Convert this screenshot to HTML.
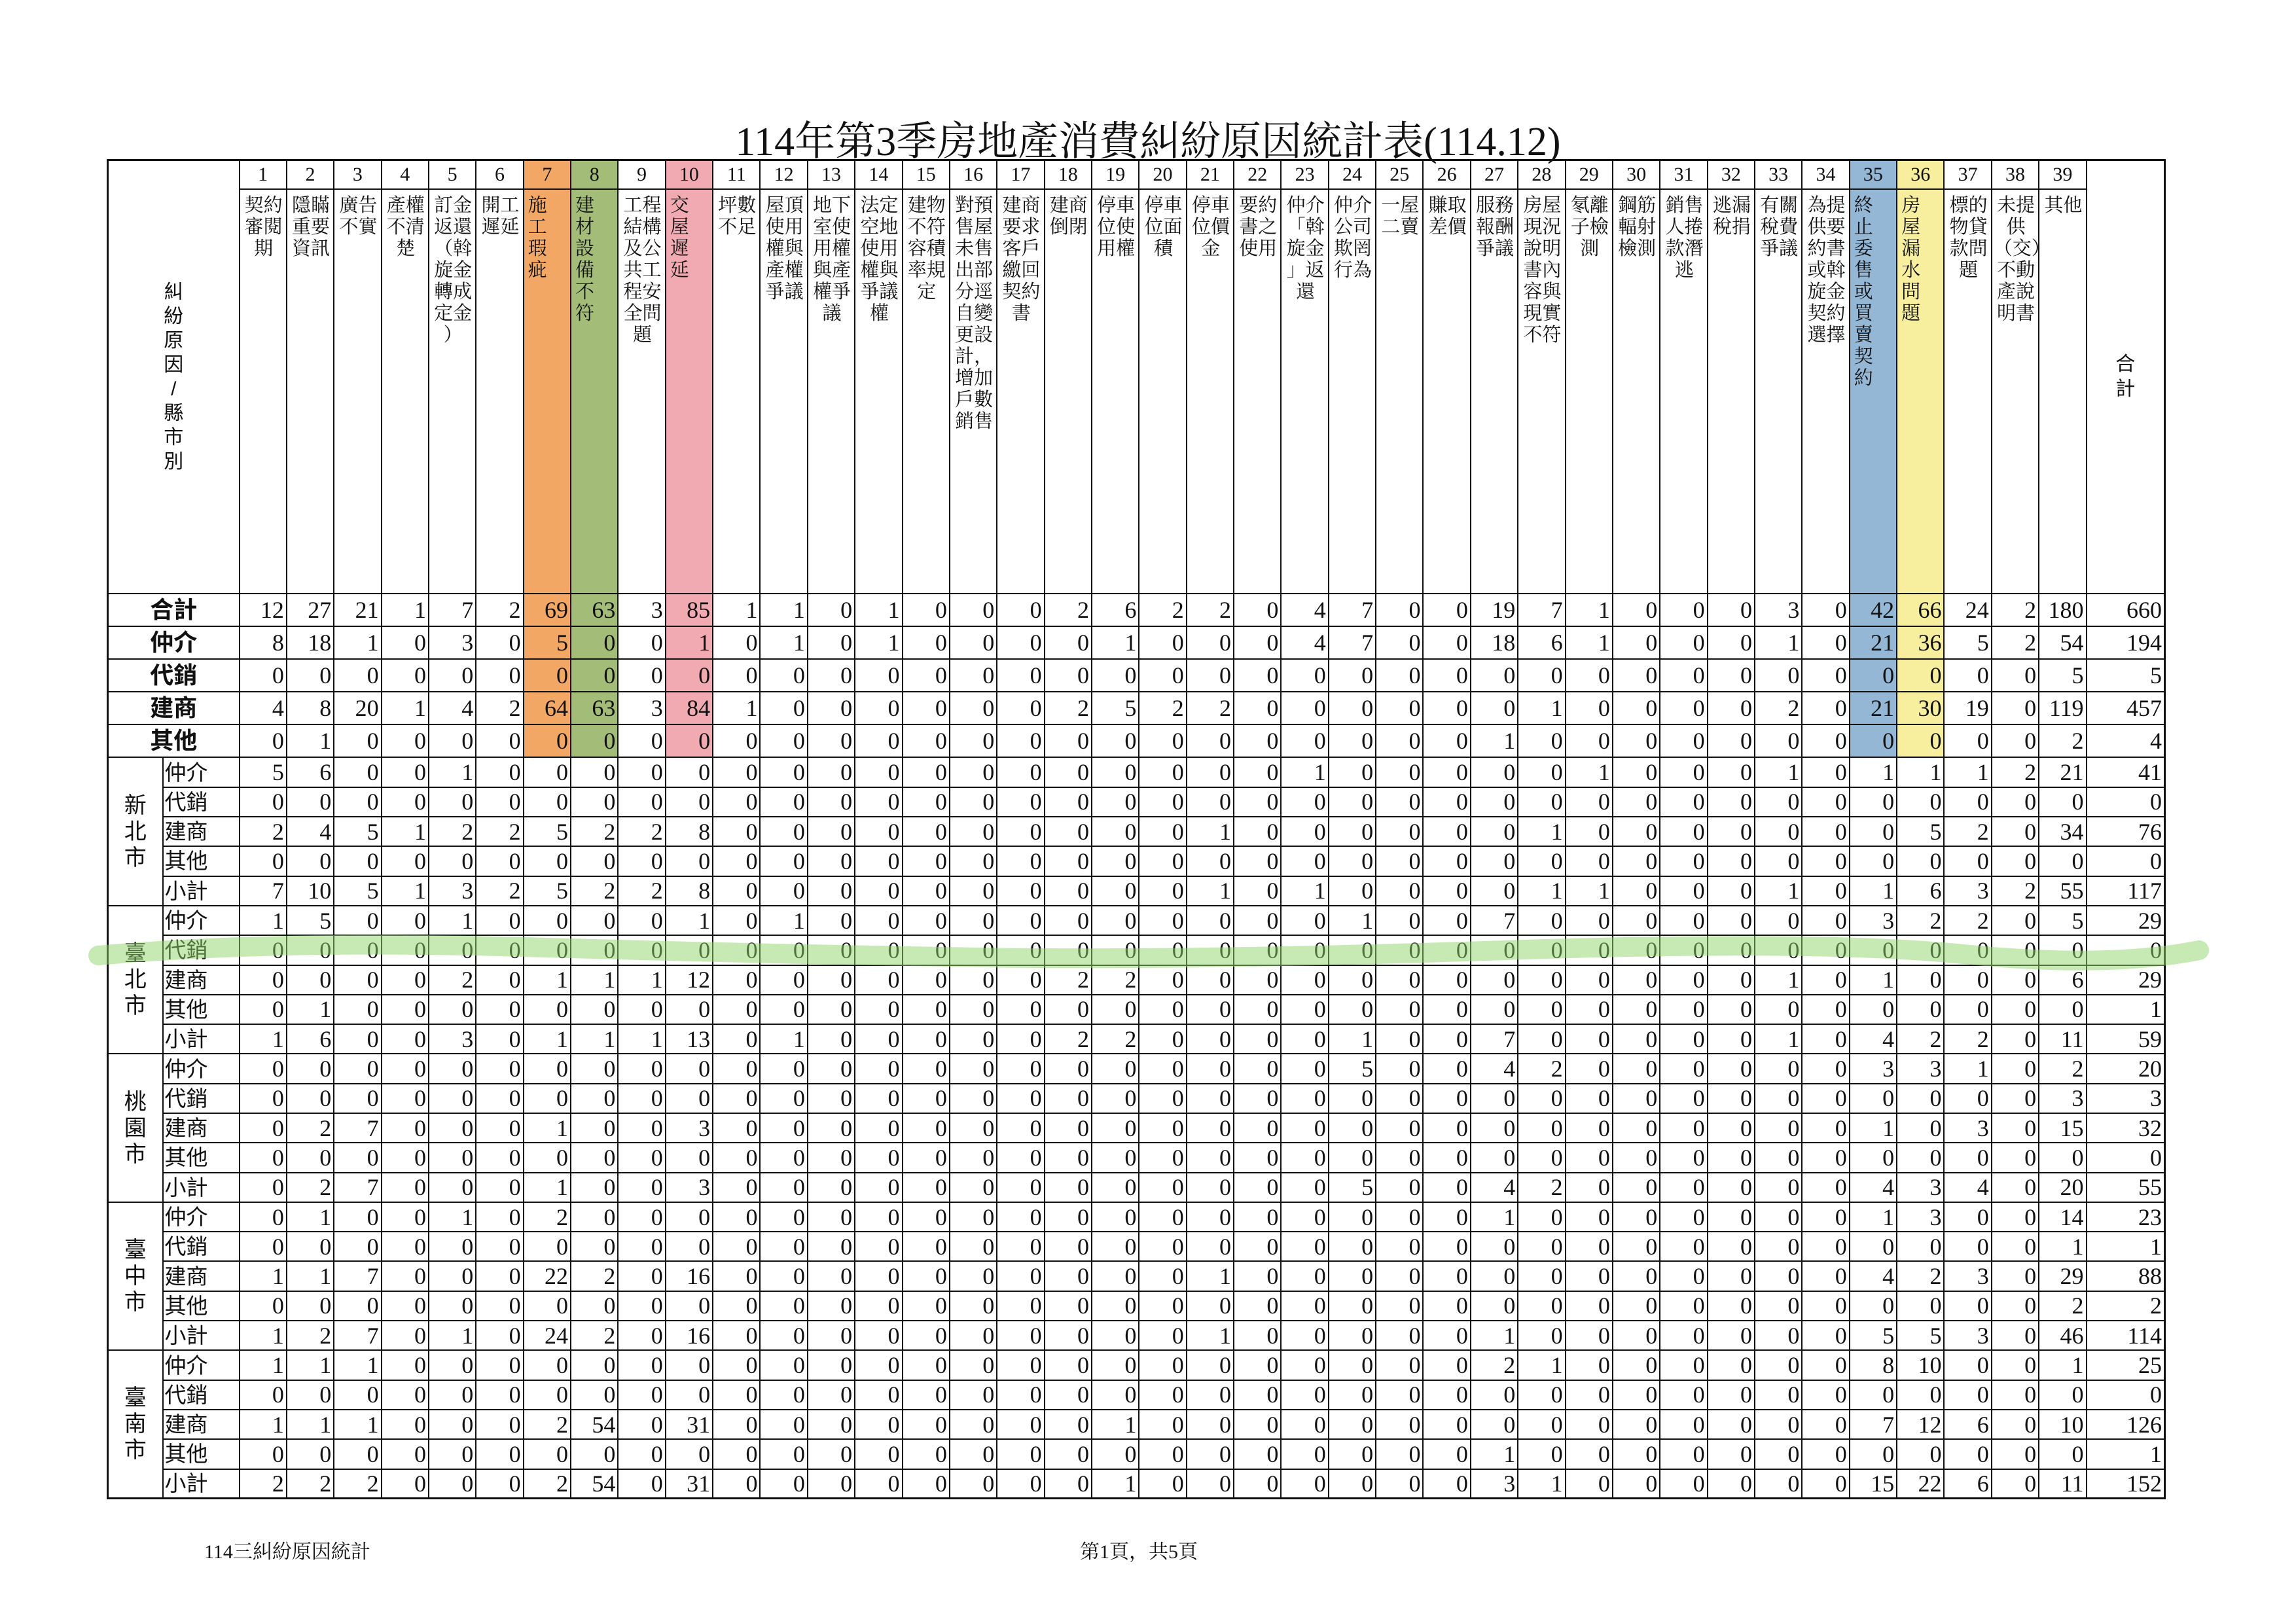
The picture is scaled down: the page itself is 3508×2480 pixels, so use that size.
<!DOCTYPE html>
<html><head><meta charset="utf-8">
<style>
html,body{margin:0;padding:0;background:#fff;}
body{width:3508px;height:2480px;position:relative;overflow:hidden;}
.title{position:absolute;left:0;width:3508px;top:166px;text-align:center;font:62px "Liberation Serif","Noto Serif CJK SC",serif;color:#111;letter-spacing:0px;}
table{position:absolute;left:163px;top:243px;border-collapse:collapse;table-layout:fixed;width:3143px;border:3px solid #111;}
td{border:2.5px solid #111;padding:0 3px 0 0;text-align:right;font:36px "Liberation Serif","Noto Serif CJK SC",serif;color:#111;overflow:hidden;white-space:nowrap;line-height:1;}
col.o{background:#f3a765;} col.g{background:#a3bd78;} col.p{background:#f1aab2;} col.b{background:#94b7d6;} col.y{background:#f7ef9e;}
tr.h1{height:44px;} tr.h1 td{text-align:center;font-size:30px;padding:0;}
tr.h2{height:618px;} tr.h2 td{vertical-align:top;text-align:center;font:29px/33px "Liberation Serif","Noto Serif CJK SC",serif;white-space:normal;padding:8px 0 0 2px;}
tr.h2 td.one{text-align:left;padding-left:6px;}
td.lbl{text-align:center;vertical-align:middle;font:30px/37px "Liberation Sans","Noto Sans CJK SC",sans-serif;padding:0;white-space:normal;}
td.tot{text-align:center;vertical-align:middle;font:34px/38px "Liberation Sans","Noto Sans CJK SC",sans-serif;padding:0;white-space:normal;}
tr.big{height:50.2px;}
tr.big td.rl{text-align:center;font:bold 36px/1 "Liberation Sans","Noto Sans CJK SC",sans-serif;padding:0;}
tr.s{height:45.3px;}
tr.s td{background:#fff;}
td.reg{text-align:center;font:34px/40px "Liberation Sans","Noto Sans CJK SC",sans-serif;padding:0;white-space:normal;}
td.sl{text-align:left;font:33px/1 "Liberation Sans","Noto Sans CJK SC",sans-serif;padding:0 0 0 2px;}
.foot{position:absolute;top:2346px;font:30px "Liberation Serif","Noto Serif CJK SC",serif;color:#111;}
svg{position:absolute;left:0;top:0;}
</style></head><body>
<div class="title">114年第3季房地產消費糾紛原因統計表(114.12)</div>
<table>
<colgroup>
<col style="width:84px"><col style="width:117px">
<col style="width:72.36px"><col style="width:72.36px"><col style="width:72.36px"><col style="width:72.36px"><col style="width:72.36px"><col style="width:72.36px">
<col class="o" style="width:72.36px"><col class="g" style="width:72.36px"><col style="width:72.36px"><col class="p" style="width:72.36px">
<col style="width:72.36px"><col style="width:72.36px"><col style="width:72.36px"><col style="width:72.36px"><col style="width:72.36px"><col style="width:72.36px"><col style="width:72.36px"><col style="width:72.36px"><col style="width:72.36px"><col style="width:72.36px">
<col style="width:72.36px"><col style="width:72.36px"><col style="width:72.36px"><col style="width:72.36px"><col style="width:72.36px"><col style="width:72.36px"><col style="width:72.36px"><col style="width:72.36px"><col style="width:72.36px"><col style="width:72.36px">
<col style="width:72.36px"><col style="width:72.36px"><col style="width:72.36px"><col style="width:72.36px">
<col class="b" style="width:72.36px"><col class="y" style="width:72.36px">
<col style="width:72.36px"><col style="width:72.36px"><col style="width:72.36px">
<col style="width:120px">
</colgroup>
<tr class="h1">
<td colspan="2" rowspan="2" class="lbl">糾<br>紛<br>原<br>因<br>/<br>縣<br>市<br>別</td>
<td>1</td><td>2</td><td>3</td><td>4</td><td>5</td><td>6</td><td>7</td><td>8</td><td>9</td><td>10</td><td>11</td><td>12</td><td>13</td><td>14</td><td>15</td><td>16</td><td>17</td><td>18</td><td>19</td><td>20</td><td>21</td><td>22</td><td>23</td><td>24</td><td>25</td><td>26</td><td>27</td><td>28</td><td>29</td><td>30</td><td>31</td><td>32</td><td>33</td><td>34</td><td>35</td><td>36</td><td>37</td><td>38</td><td>39</td>
<td rowspan="2" class="tot">合<br>計</td>
</tr>
<tr class="h2">
<td>契約<br>審閱<br>期</td>
<td>隱瞞<br>重要<br>資訊</td>
<td>廣告<br>不實</td>
<td>產權<br>不清<br>楚</td>
<td>訂金<br>返還<br>（斡<br>旋金<br>轉成<br>定金<br>）</td>
<td>開工<br>遲延</td>
<td class="one">施<br>工<br>瑕<br>疵</td>
<td class="one">建<br>材<br>設<br>備<br>不<br>符</td>
<td>工程<br>結構<br>及公<br>共工<br>程安<br>全問<br>題</td>
<td class="one">交<br>屋<br>遲<br>延</td>
<td>坪數<br>不足</td>
<td>屋頂<br>使用<br>權與<br>產權<br>爭議</td>
<td>地下<br>室使<br>用權<br>與產<br>權爭<br>議</td>
<td>法定<br>空地<br>使用<br>權與<br>爭議<br>權</td>
<td>建物<br>不符<br>容積<br>率規<br>定</td>
<td>對預<br>售屋<br>未售<br>出部<br>分逕<br>自變<br>更設<br>計，<br>增加<br>戶數<br>銷售</td>
<td>建商<br>要求<br>客戶<br>繳回<br>契約<br>書</td>
<td>建商<br>倒閉</td>
<td>停車<br>位使<br>用權</td>
<td>停車<br>位面<br>積</td>
<td>停車<br>位價<br>金</td>
<td>要約<br>書之<br>使用</td>
<td>仲介<br>「斡<br>旋金<br>」返<br>還</td>
<td>仲介<br>公司<br>欺罔<br>行為</td>
<td>一屋<br>二賣</td>
<td>賺取<br>差價</td>
<td>服務<br>報酬<br>爭議</td>
<td>房屋<br>現況<br>說明<br>書內<br>容與<br>現實<br>不符</td>
<td>氡離<br>子檢<br>測</td>
<td>鋼筋<br>輻射<br>檢測</td>
<td>銷售<br>人捲<br>款潛<br>逃</td>
<td>逃漏<br>稅捐</td>
<td>有關<br>稅費<br>爭議</td>
<td>為提<br>供要<br>約書<br>或斡<br>旋金<br>契約<br>選擇</td>
<td class="one">終<br>止<br>委<br>售<br>或<br>買<br>賣<br>契<br>約</td>
<td class="one">房<br>屋<br>漏<br>水<br>問<br>題</td>
<td>標的<br>物貸<br>款問<br>題</td>
<td>未提<br>供<br>（交）<br>不動<br>產說<br>明書</td>
<td>其他</td>
</tr>
<tr class="big"><td colspan="2" class="rl">合計</td><td>12</td><td>27</td><td>21</td><td>1</td><td>7</td><td>2</td><td>69</td><td>63</td><td>3</td><td>85</td><td>1</td><td>1</td><td>0</td><td>1</td><td>0</td><td>0</td><td>0</td><td>2</td><td>6</td><td>2</td><td>2</td><td>0</td><td>4</td><td>7</td><td>0</td><td>0</td><td>19</td><td>7</td><td>1</td><td>0</td><td>0</td><td>0</td><td>3</td><td>0</td><td>42</td><td>66</td><td>24</td><td>2</td><td>180</td><td>660</td></tr>
<tr class="big"><td colspan="2" class="rl">仲介</td><td>8</td><td>18</td><td>1</td><td>0</td><td>3</td><td>0</td><td>5</td><td>0</td><td>0</td><td>1</td><td>0</td><td>1</td><td>0</td><td>1</td><td>0</td><td>0</td><td>0</td><td>0</td><td>1</td><td>0</td><td>0</td><td>0</td><td>4</td><td>7</td><td>0</td><td>0</td><td>18</td><td>6</td><td>1</td><td>0</td><td>0</td><td>0</td><td>1</td><td>0</td><td>21</td><td>36</td><td>5</td><td>2</td><td>54</td><td>194</td></tr>
<tr class="big"><td colspan="2" class="rl">代銷</td><td>0</td><td>0</td><td>0</td><td>0</td><td>0</td><td>0</td><td>0</td><td>0</td><td>0</td><td>0</td><td>0</td><td>0</td><td>0</td><td>0</td><td>0</td><td>0</td><td>0</td><td>0</td><td>0</td><td>0</td><td>0</td><td>0</td><td>0</td><td>0</td><td>0</td><td>0</td><td>0</td><td>0</td><td>0</td><td>0</td><td>0</td><td>0</td><td>0</td><td>0</td><td>0</td><td>0</td><td>0</td><td>0</td><td>5</td><td>5</td></tr>
<tr class="big"><td colspan="2" class="rl">建商</td><td>4</td><td>8</td><td>20</td><td>1</td><td>4</td><td>2</td><td>64</td><td>63</td><td>3</td><td>84</td><td>1</td><td>0</td><td>0</td><td>0</td><td>0</td><td>0</td><td>0</td><td>2</td><td>5</td><td>2</td><td>2</td><td>0</td><td>0</td><td>0</td><td>0</td><td>0</td><td>0</td><td>1</td><td>0</td><td>0</td><td>0</td><td>0</td><td>2</td><td>0</td><td>21</td><td>30</td><td>19</td><td>0</td><td>119</td><td>457</td></tr>
<tr class="big"><td colspan="2" class="rl">其他</td><td>0</td><td>1</td><td>0</td><td>0</td><td>0</td><td>0</td><td>0</td><td>0</td><td>0</td><td>0</td><td>0</td><td>0</td><td>0</td><td>0</td><td>0</td><td>0</td><td>0</td><td>0</td><td>0</td><td>0</td><td>0</td><td>0</td><td>0</td><td>0</td><td>0</td><td>0</td><td>1</td><td>0</td><td>0</td><td>0</td><td>0</td><td>0</td><td>0</td><td>0</td><td>0</td><td>0</td><td>0</td><td>0</td><td>2</td><td>4</td></tr>

<tr class="s"><td rowspan="5" class="reg">新<br>北<br>市</td><td class="sl">仲介</td><td>5</td><td>6</td><td>0</td><td>0</td><td>1</td><td>0</td><td>0</td><td>0</td><td>0</td><td>0</td><td>0</td><td>0</td><td>0</td><td>0</td><td>0</td><td>0</td><td>0</td><td>0</td><td>0</td><td>0</td><td>0</td><td>0</td><td>1</td><td>0</td><td>0</td><td>0</td><td>0</td><td>0</td><td>1</td><td>0</td><td>0</td><td>0</td><td>1</td><td>0</td><td>1</td><td>1</td><td>1</td><td>2</td><td>21</td><td>41</td></tr>
<tr class="s"><td class="sl">代銷</td><td>0</td><td>0</td><td>0</td><td>0</td><td>0</td><td>0</td><td>0</td><td>0</td><td>0</td><td>0</td><td>0</td><td>0</td><td>0</td><td>0</td><td>0</td><td>0</td><td>0</td><td>0</td><td>0</td><td>0</td><td>0</td><td>0</td><td>0</td><td>0</td><td>0</td><td>0</td><td>0</td><td>0</td><td>0</td><td>0</td><td>0</td><td>0</td><td>0</td><td>0</td><td>0</td><td>0</td><td>0</td><td>0</td><td>0</td><td>0</td></tr>
<tr class="s"><td class="sl">建商</td><td>2</td><td>4</td><td>5</td><td>1</td><td>2</td><td>2</td><td>5</td><td>2</td><td>2</td><td>8</td><td>0</td><td>0</td><td>0</td><td>0</td><td>0</td><td>0</td><td>0</td><td>0</td><td>0</td><td>0</td><td>1</td><td>0</td><td>0</td><td>0</td><td>0</td><td>0</td><td>0</td><td>1</td><td>0</td><td>0</td><td>0</td><td>0</td><td>0</td><td>0</td><td>0</td><td>5</td><td>2</td><td>0</td><td>34</td><td>76</td></tr>
<tr class="s"><td class="sl">其他</td><td>0</td><td>0</td><td>0</td><td>0</td><td>0</td><td>0</td><td>0</td><td>0</td><td>0</td><td>0</td><td>0</td><td>0</td><td>0</td><td>0</td><td>0</td><td>0</td><td>0</td><td>0</td><td>0</td><td>0</td><td>0</td><td>0</td><td>0</td><td>0</td><td>0</td><td>0</td><td>0</td><td>0</td><td>0</td><td>0</td><td>0</td><td>0</td><td>0</td><td>0</td><td>0</td><td>0</td><td>0</td><td>0</td><td>0</td><td>0</td></tr>
<tr class="s"><td class="sl">小計</td><td>7</td><td>10</td><td>5</td><td>1</td><td>3</td><td>2</td><td>5</td><td>2</td><td>2</td><td>8</td><td>0</td><td>0</td><td>0</td><td>0</td><td>0</td><td>0</td><td>0</td><td>0</td><td>0</td><td>0</td><td>1</td><td>0</td><td>1</td><td>0</td><td>0</td><td>0</td><td>0</td><td>1</td><td>1</td><td>0</td><td>0</td><td>0</td><td>1</td><td>0</td><td>1</td><td>6</td><td>3</td><td>2</td><td>55</td><td>117</td></tr>

<tr class="s"><td rowspan="5" class="reg">臺<br>北<br>市</td><td class="sl">仲介</td><td>1</td><td>5</td><td>0</td><td>0</td><td>1</td><td>0</td><td>0</td><td>0</td><td>0</td><td>1</td><td>0</td><td>1</td><td>0</td><td>0</td><td>0</td><td>0</td><td>0</td><td>0</td><td>0</td><td>0</td><td>0</td><td>0</td><td>0</td><td>1</td><td>0</td><td>0</td><td>7</td><td>0</td><td>0</td><td>0</td><td>0</td><td>0</td><td>0</td><td>0</td><td>3</td><td>2</td><td>2</td><td>0</td><td>5</td><td>29</td></tr>
<tr class="s"><td class="sl">代銷</td><td>0</td><td>0</td><td>0</td><td>0</td><td>0</td><td>0</td><td>0</td><td>0</td><td>0</td><td>0</td><td>0</td><td>0</td><td>0</td><td>0</td><td>0</td><td>0</td><td>0</td><td>0</td><td>0</td><td>0</td><td>0</td><td>0</td><td>0</td><td>0</td><td>0</td><td>0</td><td>0</td><td>0</td><td>0</td><td>0</td><td>0</td><td>0</td><td>0</td><td>0</td><td>0</td><td>0</td><td>0</td><td>0</td><td>0</td><td>0</td></tr>
<tr class="s"><td class="sl">建商</td><td>0</td><td>0</td><td>0</td><td>0</td><td>2</td><td>0</td><td>1</td><td>1</td><td>1</td><td>12</td><td>0</td><td>0</td><td>0</td><td>0</td><td>0</td><td>0</td><td>0</td><td>2</td><td>2</td><td>0</td><td>0</td><td>0</td><td>0</td><td>0</td><td>0</td><td>0</td><td>0</td><td>0</td><td>0</td><td>0</td><td>0</td><td>0</td><td>1</td><td>0</td><td>1</td><td>0</td><td>0</td><td>0</td><td>6</td><td>29</td></tr>
<tr class="s"><td class="sl">其他</td><td>0</td><td>1</td><td>0</td><td>0</td><td>0</td><td>0</td><td>0</td><td>0</td><td>0</td><td>0</td><td>0</td><td>0</td><td>0</td><td>0</td><td>0</td><td>0</td><td>0</td><td>0</td><td>0</td><td>0</td><td>0</td><td>0</td><td>0</td><td>0</td><td>0</td><td>0</td><td>0</td><td>0</td><td>0</td><td>0</td><td>0</td><td>0</td><td>0</td><td>0</td><td>0</td><td>0</td><td>0</td><td>0</td><td>0</td><td>1</td></tr>
<tr class="s"><td class="sl">小計</td><td>1</td><td>6</td><td>0</td><td>0</td><td>3</td><td>0</td><td>1</td><td>1</td><td>1</td><td>13</td><td>0</td><td>1</td><td>0</td><td>0</td><td>0</td><td>0</td><td>0</td><td>2</td><td>2</td><td>0</td><td>0</td><td>0</td><td>0</td><td>1</td><td>0</td><td>0</td><td>7</td><td>0</td><td>0</td><td>0</td><td>0</td><td>0</td><td>1</td><td>0</td><td>4</td><td>2</td><td>2</td><td>0</td><td>11</td><td>59</td></tr>

<tr class="s"><td rowspan="5" class="reg">桃<br>園<br>市</td><td class="sl">仲介</td><td>0</td><td>0</td><td>0</td><td>0</td><td>0</td><td>0</td><td>0</td><td>0</td><td>0</td><td>0</td><td>0</td><td>0</td><td>0</td><td>0</td><td>0</td><td>0</td><td>0</td><td>0</td><td>0</td><td>0</td><td>0</td><td>0</td><td>0</td><td>5</td><td>0</td><td>0</td><td>4</td><td>2</td><td>0</td><td>0</td><td>0</td><td>0</td><td>0</td><td>0</td><td>3</td><td>3</td><td>1</td><td>0</td><td>2</td><td>20</td></tr>
<tr class="s"><td class="sl">代銷</td><td>0</td><td>0</td><td>0</td><td>0</td><td>0</td><td>0</td><td>0</td><td>0</td><td>0</td><td>0</td><td>0</td><td>0</td><td>0</td><td>0</td><td>0</td><td>0</td><td>0</td><td>0</td><td>0</td><td>0</td><td>0</td><td>0</td><td>0</td><td>0</td><td>0</td><td>0</td><td>0</td><td>0</td><td>0</td><td>0</td><td>0</td><td>0</td><td>0</td><td>0</td><td>0</td><td>0</td><td>0</td><td>0</td><td>3</td><td>3</td></tr>
<tr class="s"><td class="sl">建商</td><td>0</td><td>2</td><td>7</td><td>0</td><td>0</td><td>0</td><td>1</td><td>0</td><td>0</td><td>3</td><td>0</td><td>0</td><td>0</td><td>0</td><td>0</td><td>0</td><td>0</td><td>0</td><td>0</td><td>0</td><td>0</td><td>0</td><td>0</td><td>0</td><td>0</td><td>0</td><td>0</td><td>0</td><td>0</td><td>0</td><td>0</td><td>0</td><td>0</td><td>0</td><td>1</td><td>0</td><td>3</td><td>0</td><td>15</td><td>32</td></tr>
<tr class="s"><td class="sl">其他</td><td>0</td><td>0</td><td>0</td><td>0</td><td>0</td><td>0</td><td>0</td><td>0</td><td>0</td><td>0</td><td>0</td><td>0</td><td>0</td><td>0</td><td>0</td><td>0</td><td>0</td><td>0</td><td>0</td><td>0</td><td>0</td><td>0</td><td>0</td><td>0</td><td>0</td><td>0</td><td>0</td><td>0</td><td>0</td><td>0</td><td>0</td><td>0</td><td>0</td><td>0</td><td>0</td><td>0</td><td>0</td><td>0</td><td>0</td><td>0</td></tr>
<tr class="s"><td class="sl">小計</td><td>0</td><td>2</td><td>7</td><td>0</td><td>0</td><td>0</td><td>1</td><td>0</td><td>0</td><td>3</td><td>0</td><td>0</td><td>0</td><td>0</td><td>0</td><td>0</td><td>0</td><td>0</td><td>0</td><td>0</td><td>0</td><td>0</td><td>0</td><td>5</td><td>0</td><td>0</td><td>4</td><td>2</td><td>0</td><td>0</td><td>0</td><td>0</td><td>0</td><td>0</td><td>4</td><td>3</td><td>4</td><td>0</td><td>20</td><td>55</td></tr>

<tr class="s"><td rowspan="5" class="reg">臺<br>中<br>市</td><td class="sl">仲介</td><td>0</td><td>1</td><td>0</td><td>0</td><td>1</td><td>0</td><td>2</td><td>0</td><td>0</td><td>0</td><td>0</td><td>0</td><td>0</td><td>0</td><td>0</td><td>0</td><td>0</td><td>0</td><td>0</td><td>0</td><td>0</td><td>0</td><td>0</td><td>0</td><td>0</td><td>0</td><td>1</td><td>0</td><td>0</td><td>0</td><td>0</td><td>0</td><td>0</td><td>0</td><td>1</td><td>3</td><td>0</td><td>0</td><td>14</td><td>23</td></tr>
<tr class="s"><td class="sl">代銷</td><td>0</td><td>0</td><td>0</td><td>0</td><td>0</td><td>0</td><td>0</td><td>0</td><td>0</td><td>0</td><td>0</td><td>0</td><td>0</td><td>0</td><td>0</td><td>0</td><td>0</td><td>0</td><td>0</td><td>0</td><td>0</td><td>0</td><td>0</td><td>0</td><td>0</td><td>0</td><td>0</td><td>0</td><td>0</td><td>0</td><td>0</td><td>0</td><td>0</td><td>0</td><td>0</td><td>0</td><td>0</td><td>0</td><td>1</td><td>1</td></tr>
<tr class="s"><td class="sl">建商</td><td>1</td><td>1</td><td>7</td><td>0</td><td>0</td><td>0</td><td>22</td><td>2</td><td>0</td><td>16</td><td>0</td><td>0</td><td>0</td><td>0</td><td>0</td><td>0</td><td>0</td><td>0</td><td>0</td><td>0</td><td>1</td><td>0</td><td>0</td><td>0</td><td>0</td><td>0</td><td>0</td><td>0</td><td>0</td><td>0</td><td>0</td><td>0</td><td>0</td><td>0</td><td>4</td><td>2</td><td>3</td><td>0</td><td>29</td><td>88</td></tr>
<tr class="s"><td class="sl">其他</td><td>0</td><td>0</td><td>0</td><td>0</td><td>0</td><td>0</td><td>0</td><td>0</td><td>0</td><td>0</td><td>0</td><td>0</td><td>0</td><td>0</td><td>0</td><td>0</td><td>0</td><td>0</td><td>0</td><td>0</td><td>0</td><td>0</td><td>0</td><td>0</td><td>0</td><td>0</td><td>0</td><td>0</td><td>0</td><td>0</td><td>0</td><td>0</td><td>0</td><td>0</td><td>0</td><td>0</td><td>0</td><td>0</td><td>2</td><td>2</td></tr>
<tr class="s"><td class="sl">小計</td><td>1</td><td>2</td><td>7</td><td>0</td><td>1</td><td>0</td><td>24</td><td>2</td><td>0</td><td>16</td><td>0</td><td>0</td><td>0</td><td>0</td><td>0</td><td>0</td><td>0</td><td>0</td><td>0</td><td>0</td><td>1</td><td>0</td><td>0</td><td>0</td><td>0</td><td>0</td><td>1</td><td>0</td><td>0</td><td>0</td><td>0</td><td>0</td><td>0</td><td>0</td><td>5</td><td>5</td><td>3</td><td>0</td><td>46</td><td>114</td></tr>

<tr class="s"><td rowspan="5" class="reg">臺<br>南<br>市</td><td class="sl">仲介</td><td>1</td><td>1</td><td>1</td><td>0</td><td>0</td><td>0</td><td>0</td><td>0</td><td>0</td><td>0</td><td>0</td><td>0</td><td>0</td><td>0</td><td>0</td><td>0</td><td>0</td><td>0</td><td>0</td><td>0</td><td>0</td><td>0</td><td>0</td><td>0</td><td>0</td><td>0</td><td>2</td><td>1</td><td>0</td><td>0</td><td>0</td><td>0</td><td>0</td><td>0</td><td>8</td><td>10</td><td>0</td><td>0</td><td>1</td><td>25</td></tr>
<tr class="s"><td class="sl">代銷</td><td>0</td><td>0</td><td>0</td><td>0</td><td>0</td><td>0</td><td>0</td><td>0</td><td>0</td><td>0</td><td>0</td><td>0</td><td>0</td><td>0</td><td>0</td><td>0</td><td>0</td><td>0</td><td>0</td><td>0</td><td>0</td><td>0</td><td>0</td><td>0</td><td>0</td><td>0</td><td>0</td><td>0</td><td>0</td><td>0</td><td>0</td><td>0</td><td>0</td><td>0</td><td>0</td><td>0</td><td>0</td><td>0</td><td>0</td><td>0</td></tr>
<tr class="s"><td class="sl">建商</td><td>1</td><td>1</td><td>1</td><td>0</td><td>0</td><td>0</td><td>2</td><td>54</td><td>0</td><td>31</td><td>0</td><td>0</td><td>0</td><td>0</td><td>0</td><td>0</td><td>0</td><td>0</td><td>1</td><td>0</td><td>0</td><td>0</td><td>0</td><td>0</td><td>0</td><td>0</td><td>0</td><td>0</td><td>0</td><td>0</td><td>0</td><td>0</td><td>0</td><td>0</td><td>7</td><td>12</td><td>6</td><td>0</td><td>10</td><td>126</td></tr>
<tr class="s"><td class="sl">其他</td><td>0</td><td>0</td><td>0</td><td>0</td><td>0</td><td>0</td><td>0</td><td>0</td><td>0</td><td>0</td><td>0</td><td>0</td><td>0</td><td>0</td><td>0</td><td>0</td><td>0</td><td>0</td><td>0</td><td>0</td><td>0</td><td>0</td><td>0</td><td>0</td><td>0</td><td>0</td><td>1</td><td>0</td><td>0</td><td>0</td><td>0</td><td>0</td><td>0</td><td>0</td><td>0</td><td>0</td><td>0</td><td>0</td><td>0</td><td>1</td></tr>
<tr class="s"><td class="sl">小計</td><td>2</td><td>2</td><td>2</td><td>0</td><td>0</td><td>0</td><td>2</td><td>54</td><td>0</td><td>31</td><td>0</td><td>0</td><td>0</td><td>0</td><td>0</td><td>0</td><td>0</td><td>0</td><td>1</td><td>0</td><td>0</td><td>0</td><td>0</td><td>0</td><td>0</td><td>0</td><td>3</td><td>1</td><td>0</td><td>0</td><td>0</td><td>0</td><td>0</td><td>0</td><td>15</td><td>22</td><td>6</td><td>0</td><td>11</td><td>152</td></tr>
</table>
<svg width="3508" height="2480" viewBox="0 0 3508 2480">
<path d="M150,1460 Q420,1436 800,1447 T1500,1463 T2300,1452 T3000,1458 T3360,1452" fill="none" stroke="#8fd36a" stroke-opacity="0.5" stroke-width="30" stroke-linecap="round"/>
</svg>
<div class="foot" style="left:312px;">114三糾紛原因統計</div>
<div class="foot" style="left:1650px;">第1頁，共5頁</div>
</body></html>
